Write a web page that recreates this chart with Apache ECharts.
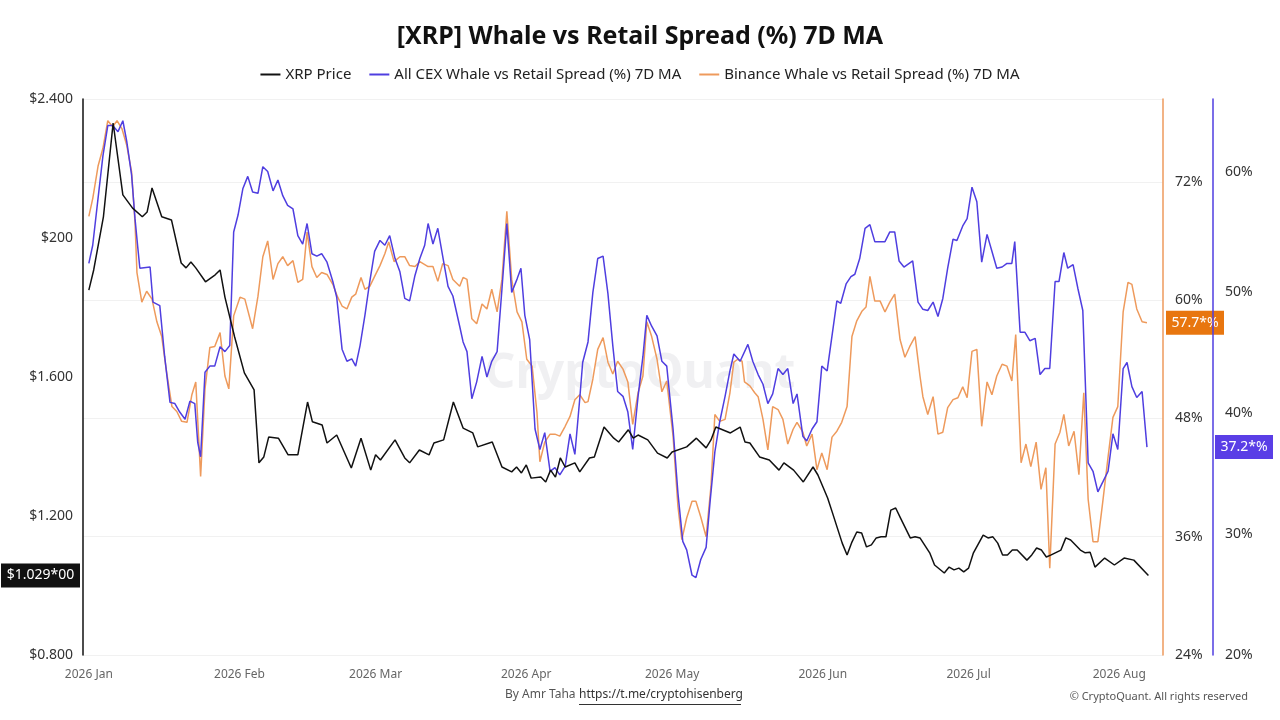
<!DOCTYPE html>
<html><head><meta charset="utf-8">
<script src="https://cdn.jsdelivr.net/npm/echarts@6/dist/echarts.min.js"></script>
<style>html,body{margin:0;padding:0;background:#fff}#c{width:1280px;height:720px}</style>
</head><body><div id="c"></div>
<script>
const title = "[XRP] Whale vs Retail Spread (%) 7D MA";
const seriesNames = ["XRP Price", "All CEX Whale vs Retail Spread (%) 7D MA", "Binance Whale vs Retail Spread (%) 7D MA"];
const monthLabels = ["Jan","Feb","Mar","Apr","May","Jun","Jul","Aug","Sep","Oct","Nov","Dec"];
const priceTicks = ["$0.800","$1.200","$1.600","$200","$2.400"];

// days since 2026-01-01
const priceDays = [0,1,3,5,7,9,11,12,13,15,17,19,20,21,22,24,26,27,28,30,32,34,35,36,37,39,41,43,45,46,48,49,51,54,56,58,59,60,63,65,66,68,70,71,73,75,77,79,80,83,85,87,88,89,90,91,93,94,95,96,97,98,100,101,103,104,106,108,109,111,112,113,115,117,119,120,123,125,127,128,129,132,134,135,136,138,140,142,143,145,147,149,150,152,153,155,156,157,158,159,160,161,162,163,164,165,166,167,169,170,171,173,174,176,177,178,179,180,181,182,184,185,186,187,188,189,190,191,193,194,195,196,197,198,200,201,202,204,205,206,207,209,211,213,215,218];
const priceVals = [1.850,1.908,2.061,2.331,2.124,2.086,2.061,2.075,2.144,2.061,2.052,1.928,1.914,1.931,1.914,1.874,1.894,1.908,1.830,1.715,1.612,1.563,1.353,1.370,1.427,1.424,1.376,1.376,1.528,1.471,1.462,1.410,1.433,1.338,1.424,1.332,1.376,1.361,1.419,1.367,1.353,1.390,1.376,1.410,1.419,1.528,1.453,1.439,1.399,1.413,1.341,1.327,1.341,1.324,1.347,1.309,1.312,1.298,1.332,1.312,1.367,1.341,1.353,1.327,1.367,1.370,1.456,1.424,1.413,1.448,1.424,1.433,1.419,1.381,1.367,1.384,1.399,1.424,1.396,1.419,1.456,1.439,1.456,1.413,1.410,1.370,1.361,1.332,1.353,1.332,1.298,1.341,1.318,1.252,1.209,1.122,1.088,1.125,1.154,1.151,1.111,1.117,1.137,1.140,1.140,1.217,1.223,1.194,1.137,1.140,1.137,1.094,1.059,1.036,1.053,1.045,1.050,1.039,1.050,1.094,1.145,1.137,1.140,1.122,1.088,1.088,1.102,1.102,1.073,1.088,1.108,1.102,1.082,1.088,1.102,1.137,1.131,1.102,1.094,1.096,1.053,1.079,1.059,1.079,1.073,1.029];

const cexDays = [0,0.8,1.9,2.9,3.9,4.9,6.0,7.0,7.8,8.8,9.5,10.1,10.5,12.6,13.2,14.6,15.6,16.7,17.7,18.7,19.8,20.8,21.8,22.4,23.0,23.9,24.9,25.9,27.0,28.0,29.0,29.8,30.7,31.7,32.7,33.7,34.8,35.8,36.8,37.9,38.9,39.9,40.9,42.0,43.0,44.0,44.9,45.9,46.9,47.9,49.0,50.2,51.0,52.1,53.1,54.1,54.9,55.8,56.8,57.8,58.8,59.9,60.9,61.9,63.0,64.0,65.0,66.0,67.1,68.1,69.1,69.8,70.8,71.8,72.8,73.9,74.9,76.3,77.0,77.8,78.8,79.8,80.9,81.9,82.9,84.0,85.0,86.0,87.0,88.1,88.9,89.7,90.7,91.8,92.8,93.8,94.9,95.9,96.9,98.0,99.0,100.0,101.0,101.6,102.7,103.7,104.7,105.8,106.8,107.8,108.8,109.9,110.9,111.9,113.0,114.0,114.8,115.8,116.9,117.9,118.9,120.2,121.2,122.2,123.0,124.1,124.9,125.9,127.0,127.8,128.8,129.8,130.9,131.9,132.7,134.0,135.6,136.6,137.7,138.7,139.7,140.7,141.8,142.8,143.8,144.9,145.7,146.9,147.7,148.8,149.8,150.8,151.9,152.9,153.9,154.7,155.8,156.8,157.6,158.6,159.7,160.7,161.7,163.8,164.8,165.8,166.7,167.7,169.5,170.6,171.6,172.6,173.7,174.7,175.7,176.7,177.8,178.6,179.8,180.7,181.7,182.7,183.7,184.8,185.8,186.8,187.9,188.9,189.9,190.5,191.6,192.6,193.6,194.7,195.7,196.7,197.7,198.8,199.6,200.6,201.4,202.5,203.5,204.5,205.6,206.6,207.6,208.6,209.7,210.7,211.7,212.8,213.6,214.6,215.6,216.7,217.7];
const cexVals = [52.4,53.9,57.8,61.3,63.8,63.8,63.3,64.2,62.5,59.7,56.1,53.6,52.0,52.1,49.2,48.9,44.7,40.9,40.8,40.1,39.5,41.0,40.8,37.6,36.4,43.4,43.9,43.9,45.5,45.1,45.6,55.0,56.4,58.6,59.6,58.3,58.2,60.4,60.0,58.4,59.3,58.0,57.2,56.9,54.7,54.0,55.7,53.2,53.0,53.2,52.5,50.9,49.6,45.3,44.3,44.5,43.9,45.6,48.1,50.9,53.4,54.3,53.9,54.7,52.8,51.7,49.5,49.3,51.4,52.8,53.9,55.7,54.0,55.3,53.0,50.5,49.7,47.2,45.9,45.1,41.2,42.6,44.7,43.0,44.3,45.1,50.3,55.7,50.0,51.1,52.0,48.1,46.1,38.7,37.0,38.4,35.2,35.5,34.9,35.6,38.3,36.6,41.2,44.2,45.9,50.0,52.8,53.0,49.9,45.6,41.8,41.4,40.1,37.0,41.4,44.7,48.1,47.2,46.4,44.3,43.9,38.7,33.4,29.4,28.7,26.6,26.4,27.9,28.9,32.6,36.8,39.3,41.4,43.5,44.9,44.3,45.7,44.3,43.2,42.4,40.8,41.6,43.7,43.2,43.7,40.8,41.6,38.1,37.7,38.7,39.3,43.9,43.5,46.4,49.3,49.1,50.7,51.3,51.5,52.8,55.3,55.6,54.2,54.2,55.0,55.0,52.6,52.1,52.6,49.2,48.6,48.5,49.2,48.0,49.5,52.0,54.4,54.3,55.5,56.1,58.7,57.5,52.5,54.8,53.4,52.0,52.1,52.4,52.4,54.2,46.7,46.7,46.0,46.2,43.2,43.7,43.7,50.9,50.9,53.3,52.0,52.3,50.3,48.5,35.9,35.2,33.5,34.3,35.2,38.3,37.0,43.7,44.2,42.2,41.3,41.8,37.2];

const bnDays = [0,0.8,1.9,2.9,3.9,4.9,5.8,6.8,7.8,8.8,9.5,9.9,10.9,11.9,13.0,14.0,15.0,16.0,17.1,18.1,19.1,20.2,21.2,22.0,23.0,23.9,24.9,25.9,27.0,28.0,28.8,29.8,31.1,32.1,33.7,34.8,35.8,36.8,37.9,38.9,39.9,40.9,42.0,43.0,44.0,44.9,45.9,46.9,47.9,49.0,50.2,51.2,52.1,53.1,54.1,54.9,56.0,56.8,57.8,58.8,59.9,60.9,61.7,62.8,64.0,65.0,66.0,67.1,68.1,69.8,70.8,71.8,72.8,73.9,74.9,76.3,77.0,77.8,78.8,79.8,80.9,81.9,82.9,84.0,85.0,86.0,87.0,88.1,89.1,90.1,91.2,92.2,92.8,93.8,94.9,95.9,96.9,98.0,99.0,100.0,101.0,102.1,102.7,103.7,104.7,105.8,106.8,107.8,108.8,109.9,110.9,111.9,113.0,114.0,114.8,115.8,116.9,117.9,118.9,120.2,121.2,122.0,123.0,124.1,124.9,125.9,127.0,128.0,128.8,129.8,130.9,131.9,132.7,133.5,134.4,134.9,136.0,137.0,137.7,138.7,139.7,140.7,141.8,142.8,143.8,144.9,145.7,146.9,147.7,148.8,149.8,150.8,151.9,152.9,153.9,154.9,156.0,157.0,158.0,159.1,159.9,160.7,161.7,162.8,163.8,164.8,165.8,166.9,167.9,168.9,170.0,171.0,171.6,172.6,173.7,174.7,175.7,176.7,177.8,178.8,179.8,180.7,181.7,182.7,183.7,184.8,185.8,186.8,187.9,188.9,189.9,190.7,191.8,192.8,193.8,194.9,195.9,196.9,197.7,198.8,199.8,200.6,201.6,202.7,203.7,204.7,205.6,206.6,207.6,208.6,209.7,210.7,211.7,212.8,213.8,214.6,215.6,216.7,217.7];
const bnVals = [68.5,70.3,73.6,75.4,78.2,77.6,78.2,77.4,75.7,73.0,67.9,62.8,59.8,60.9,60.1,57.8,56.3,52.7,49.2,48.7,47.7,47.6,50.4,51.7,42.1,51.0,55.2,55.3,56.7,52.3,51.0,58.4,60.3,60.1,57.1,60.4,64.4,66.0,62.1,63.7,64.4,63.5,64.0,61.8,62.1,66.9,63.4,62.3,62.8,62.6,61.6,60.3,59.4,59.1,60.3,60.6,62.3,61.1,61.4,62.4,63.5,64.7,65.9,63.9,64.4,64.4,63.5,63.4,63.9,63.4,63.4,61.9,63.7,63.5,62.1,61.4,62.3,62.1,58.1,57.6,59.6,59.1,61.1,58.8,62.1,69.0,62.1,58.8,57.8,54.0,53.3,48.6,43.6,45.6,46.4,46.4,46.2,47.2,48.2,49.9,50.4,49.6,49.7,52.0,55.0,56.2,53.7,52.5,53.8,53.0,51.7,47.4,50.6,52.3,57.8,56.3,54.0,50.7,51.8,46.2,39.1,35.7,37.9,39.6,39.6,38.0,36.0,41.1,48.4,47.7,47.9,50.6,53.7,54.0,53.8,51.7,51.3,50.6,50.2,47.9,44.8,49.2,48.9,47.9,45.4,46.9,47.6,46.6,45.2,46.4,42.8,44.5,42.8,46.1,46.7,47.6,49.2,56.3,57.9,58.9,59.3,62.4,59.9,59.9,58.8,59.8,60.6,56.0,54.2,55.3,56.3,52.3,50.2,48.4,50.2,46.4,46.6,49.1,49.9,50.1,51.2,50.1,54.8,55.0,47.2,51.7,50.4,52.3,53.5,53.3,51.8,56.5,43.5,45.4,43.1,45.6,40.8,43.0,32.8,45.4,46.6,48.4,45.2,46.7,42.3,50.6,39.8,35.5,35.5,39.5,44.1,48.1,49.2,58.8,61.8,61.6,59.1,57.8,57.7];

const DAY = 86400000, T0 = Date.UTC(2026,0,1);
const toPts = (ds, vs) => ds.map((d,i) => [T0 + d*DAY, vs[i]]);
const C_BLACK = '#111111', C_CEX = '#4f3ee0', C_BN = '#ee9a5c';

const chart = echarts.init(document.getElementById('c'));
const lbl = {fontFamily:'Noto Sans', fontSize:14, color:'#333'};
chart.setOption({
  animation:false,
  textStyle:{fontFamily:'Noto Sans'},
  title:{text:title, left:'center', top:19, textStyle:{fontFamily:'Noto Sans', fontSize:25, fontWeight:'bold', color:'#111'}},
  legend:{top:62, left:'center', itemWidth:20, itemHeight:2, itemGap:18, icon:'rect',
    textStyle:{fontFamily:'Noto Sans', fontSize:15, color:'#222'}, data:seriesNames},
  grid:{left:83, right:117, top:99, bottom:65},
  xAxis:{type:'time', min:T0-1.2*DAY, max:T0+221*DAY, splitNumber:8,
    axisLine:{show:false}, axisTick:{show:false}, splitLine:{show:false},
    axisLabel:{color:'#666', fontSize:12, fontFamily:'Noto Sans', margin:14,
      formatter:(v)=>{const d=new Date(v); return d.getUTCDate()===1 ? d.getUTCFullYear()+' '+monthLabels[d.getUTCMonth()] : '';}}},
  yAxis:[
    {type:'value', position:'left', min:0.8, max:2.4, interval:0.4,
      axisLine:{show:true, lineStyle:{color:'#111', width:1.5}}, axisTick:{show:false}, splitLine:{show:false},
      axisLabel:Object.assign({}, lbl, {margin:10, formatter:(v)=>priceTicks[Math.round((v-0.8)/0.4)]})},
    {type:'value', position:'right', min:24, max:80.4, interval:12,
      axisLine:{show:true, lineStyle:{color:C_BN, width:1.5}}, axisTick:{show:false},
      splitLine:{show:true, lineStyle:{color:'#f1f1f1'}},
      axisLabel:Object.assign({}, lbl, {showMaxLabel:false, margin:12, formatter:'{value}%'})},
    {type:'value', position:'right', offset:50, min:20, max:66, interval:10,
      axisLine:{show:true, lineStyle:{color:C_CEX, width:1.5}}, axisTick:{show:false}, splitLine:{show:false},
      axisLabel:Object.assign({}, lbl, {showMaxLabel:false, margin:12, formatter:'{value}%'})}
  ],
  series:[
    {name:seriesNames[0], type:'line', yAxisIndex:0, showSymbol:false, z:5, data:toPts(priceDays,priceVals), lineStyle:{color:C_BLACK,width:1.5}, itemStyle:{color:C_BLACK}},
    {name:seriesNames[1], type:'line', yAxisIndex:2, showSymbol:false, z:4, data:toPts(cexDays,cexVals), lineStyle:{color:C_CEX,width:1.5}, itemStyle:{color:C_CEX}},
    {name:seriesNames[2], type:'line', yAxisIndex:1, showSymbol:false, z:3, data:toPts(bnDays,bnVals), lineStyle:{color:C_BN,width:1.5}, itemStyle:{color:C_BN}}
  ]
});
const yP = chart.convertToPixel({yAxisIndex:0}, priceVals[priceVals.length-1]);
const yB = chart.convertToPixel({yAxisIndex:1}, bnVals[bnVals.length-1]);
const yC = chart.convertToPixel({yAxisIndex:2}, cexVals[cexVals.length-1]);
const tag = (x, y, w, txt, bg) => ({type:'group', children:[
  {type:'rect', shape:{x:x, y:y-12, width:w, height:24}, style:{fill:bg}},
  {type:'text', x:x+w/2, y:y, style:{text:txt, fill:'#fff', font:'14px Noto Sans', align:'center', verticalAlign:'middle'}}]});
chart.setOption({graphic:[
  {type:'text', left:'center', top:350, silent:true, z:0, style:{text:'CryptoQuant', fill:'rgba(200,200,210,0.28)', font:'bold 48px Noto Sans'}},
  tag(1, yP, 79, '$' + priceVals[priceVals.length-1].toFixed(3) + '*00', '#111'),
  tag(1166, yB, 58, bnVals[bnVals.length-1].toFixed(1) + '*%', '#e8760f'),
  tag(1215, yC, 58, cexVals[cexVals.length-1].toFixed(1) + '*%', '#5a3ee6'),
  {type:'text', left:505, top:689, style:{text:'By Amr Taha ', fill:'#555', font:'12px Noto Sans'}},
  {type:'text', left:579, top:689, style:{text:'https://t.me/cryptohisenberg', fill:'#333', font:'12px Noto Sans'}},
  {type:'rect', shape:{x:579, y:704, width:162, height:1}, style:{fill:'#333'}},
  {type:'text', right:32, top:691, style:{text:'© CryptoQuant. All rights reserved', fill:'#555', font:'11px Noto Sans'}}
]});
</script></body></html>
